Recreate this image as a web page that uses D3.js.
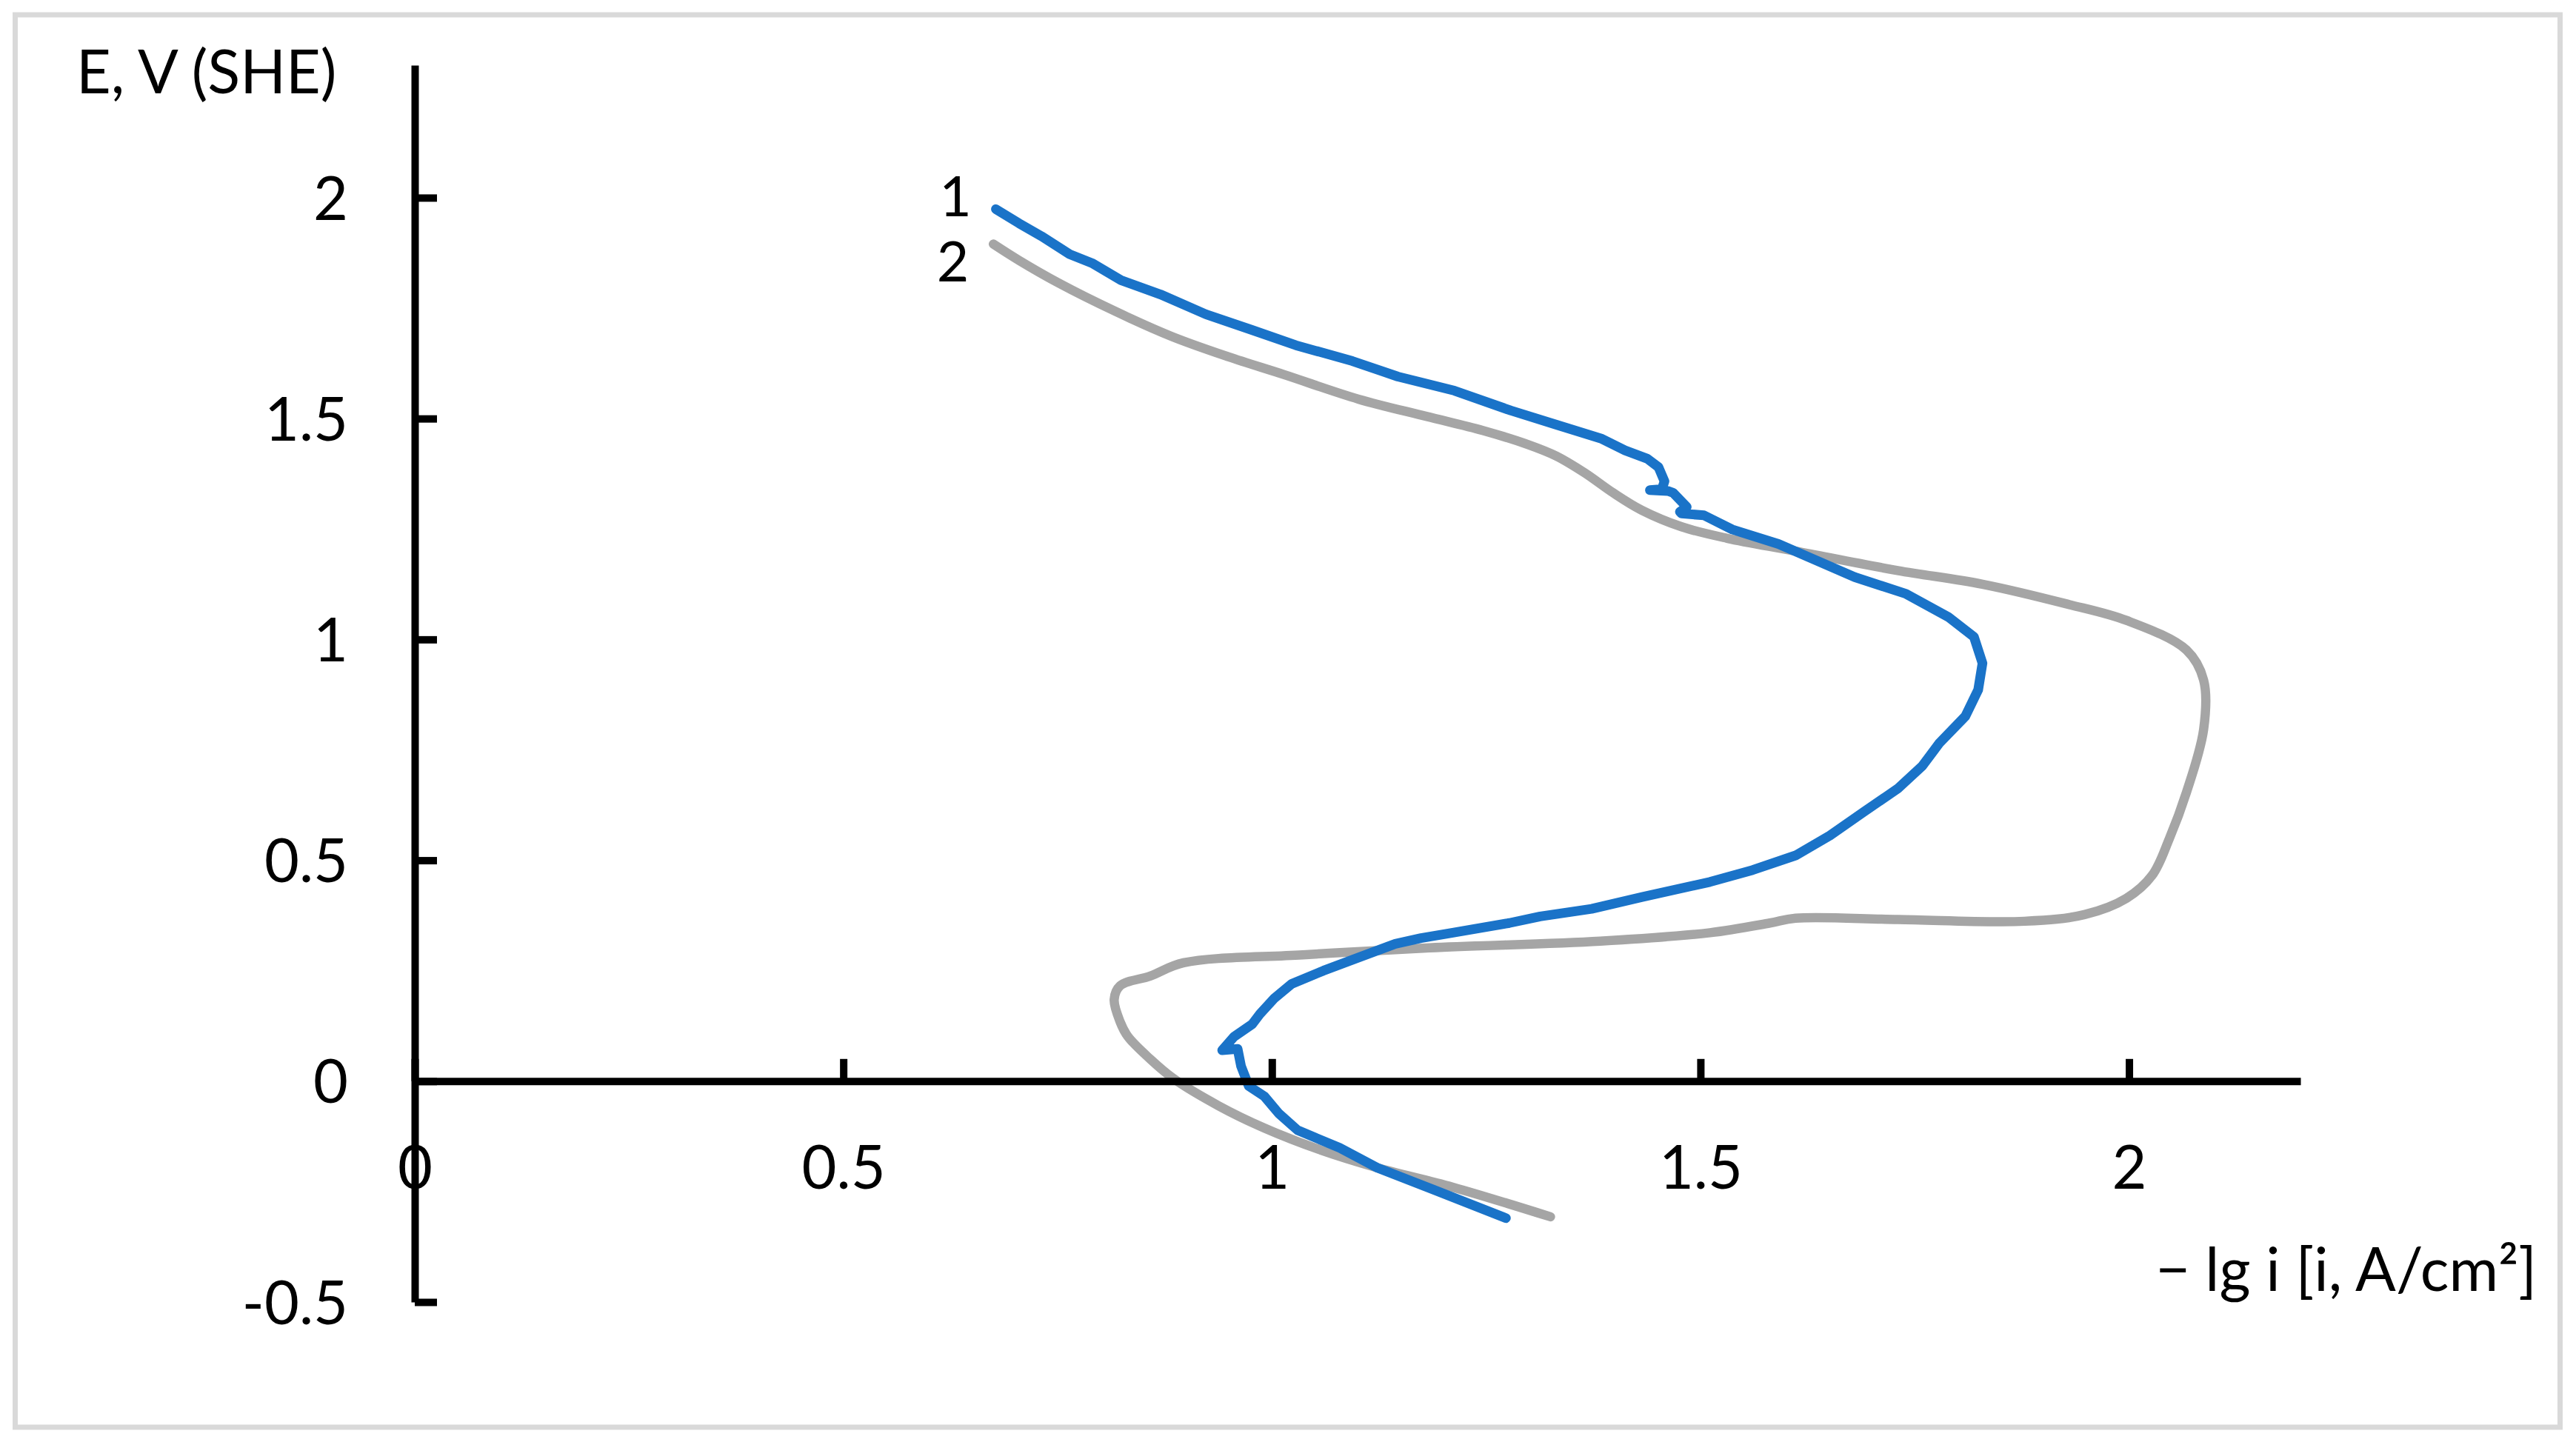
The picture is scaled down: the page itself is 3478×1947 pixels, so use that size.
<!DOCTYPE html>
<html>
<head>
<meta charset="utf-8">
<script src="https://cdn.jsdelivr.net/npm/d3@7"></script>
<style>
  body { margin: 0; background: #fff; }
  svg { display: block; font-family: Lato, 'Open Sans', sans-serif; }
</style>
</head>
<body>
<div id="chart"></div>
<script>
// Polarization curves, [-lg i, E] in recording order
const curve1 = [
  [0.678, 1.974], [0.705, 1.942], [0.731, 1.913], [0.764, 1.872], [0.790, 1.852],
  [0.824, 1.813], [0.870, 1.781], [0.923, 1.736], [0.976, 1.701], [1.028, 1.666],
  [1.094, 1.630], [1.147, 1.595], [1.213, 1.563], [1.279, 1.518], [1.332, 1.486],
  [1.385, 1.454], [1.412, 1.428], [1.438, 1.409], [1.451, 1.390], [1.458, 1.358],
  [1.455, 1.340], [1.441, 1.338], [1.462, 1.336], [1.468, 1.332], [1.484, 1.300],
  [1.476, 1.289], [1.478, 1.285], [1.504, 1.281], [1.537, 1.249], [1.591, 1.216],
  [1.680, 1.141], [1.740, 1.103], [1.789, 1.051], [1.819, 1.006], [1.829, 0.946],
  [1.824, 0.886], [1.809, 0.826], [1.779, 0.766], [1.759, 0.714], [1.730, 0.662],
  [1.690, 0.609], [1.651, 0.556], [1.611, 0.511], [1.561, 0.478], [1.511, 0.451],
  [1.432, 0.417], [1.373, 0.390], [1.313, 0.373], [1.277, 0.358], [1.211, 0.336],
  [1.174, 0.324], [1.144, 0.311], [1.101, 0.280], [1.060, 0.250], [1.023, 0.220],
  [1.003, 0.188], [0.986, 0.152], [0.977, 0.129], [0.956, 0.101], [0.942, 0.070],
  [0.960, 0.073], [0.964, 0.034], [0.973, -0.011], [0.991, -0.034], [1.008, -0.073],
  [1.030, -0.111], [1.079, -0.151], [1.123, -0.196], [1.189, -0.246], [1.273, -0.310]
];

const curve2 = [
  [0.675, 1.895], [0.705, 1.858], [0.751, 1.807], [0.817, 1.743], [0.883, 1.686],
  [0.949, 1.640], [1.015, 1.599], [1.101, 1.544], [1.180, 1.505], [1.246, 1.473],
  [1.299, 1.441], [1.332, 1.415], [1.365, 1.377], [1.398, 1.332], [1.431, 1.293],
  [1.478, 1.255], [1.531, 1.229], [1.611, 1.200], [1.730, 1.156], [1.829, 1.125],
  [1.928, 1.080], [1.997, 1.043], [2.067, 0.976], [2.087, 0.908], [2.087, 0.796],
  [2.067, 0.654], [2.047, 0.549], [2.027, 0.466], [1.997, 0.414], [1.948, 0.377],
  [1.878, 0.362], [1.730, 0.366], [1.611, 0.369], [1.581, 0.358], [1.511, 0.336],
  [1.383, 0.317], [1.184, 0.302], [1.036, 0.286], [0.897, 0.268], [0.858, 0.238],
  [0.823, 0.216], [0.816, 0.185], [0.823, 0.134], [0.832, 0.101], [0.858, 0.050],
  [0.885, 0.006], [0.938, -0.056], [0.991, -0.106], [1.057, -0.156], [1.123, -0.196],
  [1.211, -0.240], [1.325, -0.307]
];

const xTicks = [0, 0.5, 1, 1.5, 2];
const yTicks = [-0.5, 0, 0.5, 1, 1.5, 2];
const xDomain = [0, 2.2];
const yDomain = [-0.5, 2.3];
const xTitleSign = '−';
const xTitle = 'lg i [i, A/cm²]';
const yTitle = 'E, V (SHE)';

const width = 3478;
const height = 1947;

const svg = d3.select('#chart')
  .append('svg')
  .attr('width', width)
  .attr('height', height);

// Outer frame
svg.append('rect')
  .attr('x', 20.5)
  .attr('y', 20)
  .attr('width', 3436)
  .attr('height', 1907)
  .attr('fill', '#fff')
  .attr('stroke', '#d9d9d9')
  .attr('stroke-width', 7);

const x = d3.scaleLinear().domain(xDomain).range([560, 3106]);
const y = d3.scaleLinear().domain(yDomain).range([1758, 88]);

// Curves
const line = d3.line()
  .x(d => x(d[0]))
  .y(d => y(d[1]));

svg.append('path')
  .datum(curve2)
  .attr('fill', 'none')
  .attr('stroke', '#a5a5a5')
  .attr('stroke-width', 12.5)
  .attr('stroke-linejoin', 'round')
  .attr('stroke-linecap', 'round')
  .attr('d', line.curve(d3.curveCatmullRom.alpha(0.5)));

svg.append('path')
  .datum(curve1)
  .attr('fill', 'none')
  .attr('stroke', '#1a73c8')
  .attr('stroke-width', 13)
  .attr('stroke-linejoin', 'round')
  .attr('stroke-linecap', 'round')
  .attr('d', line.curve(d3.curveLinear));

// Y axis, ticks pointing inward
const yAxis = svg.append('g')
  .attr('transform', `translate(${x(0)},0)`)
  .call(d3.axisLeft(y)
    .tickValues(yTicks)
    .tickFormat(d => String(d))
    .tickSizeInner(-30)
    .tickSizeOuter(0)
    .tickPadding(90));

// X axis at E = 0
const xAxis = svg.append('g')
  .attr('transform', `translate(0,${y(0)})`)
  .call(d3.axisBottom(x)
    .tickValues(xTicks)
    .tickFormat(d => String(d))
    .tickSizeInner(-30)
    .tickSizeOuter(0));

[xAxis, yAxis].forEach(g => {
  g.select('.domain').attr('stroke', '#000').attr('stroke-width', 10);
  g.selectAll('.tick line').attr('stroke', '#000').attr('stroke-width', 10);
  g.selectAll('.tick text')
    .attr('fill', '#000')
    .style('font-size', '81px')
    .style('font-family', 'Lato, sans-serif');
});

yAxis.selectAll('.tick text').attr('dy', '0.36em');
xAxis.selectAll('.tick text').attr('y', 145).attr('dy', 0);

// Axis titles
svg.append('text')
  .attr('x', 103)
  .attr('y', 126)
  .style('font-size', '81px')
  .attr('fill', '#000')
  .text(yTitle);

const xLabel = svg.append('text')
  .attr('x', 3425)
  .attr('y', 1743)
  .attr('text-anchor', 'end')
  .style('font-size', '81px')
  .attr('fill', '#000');
xLabel.append('tspan').text(xTitleSign);
xLabel.append('tspan').attr('dx', 20).text(xTitle);

// Curve labels next to the starting points
const labels = [
  { text: '1', at: curve1[0], dy: 10 },
  { text: '2', at: curve2[0], dy: 50 }
];

svg.selectAll('.curve-label')
  .data(labels)
  .enter().append('text')
  .attr('class', 'curve-label')
  .attr('x', d => x(d.at[0]) - 33)
  .attr('y', d => y(d.at[1]) + d.dy)
  .attr('text-anchor', 'end')
  .style('font-size', '75px')
  .attr('fill', '#000')
  .text(d => d.text);
</script>
</body>
</html>
